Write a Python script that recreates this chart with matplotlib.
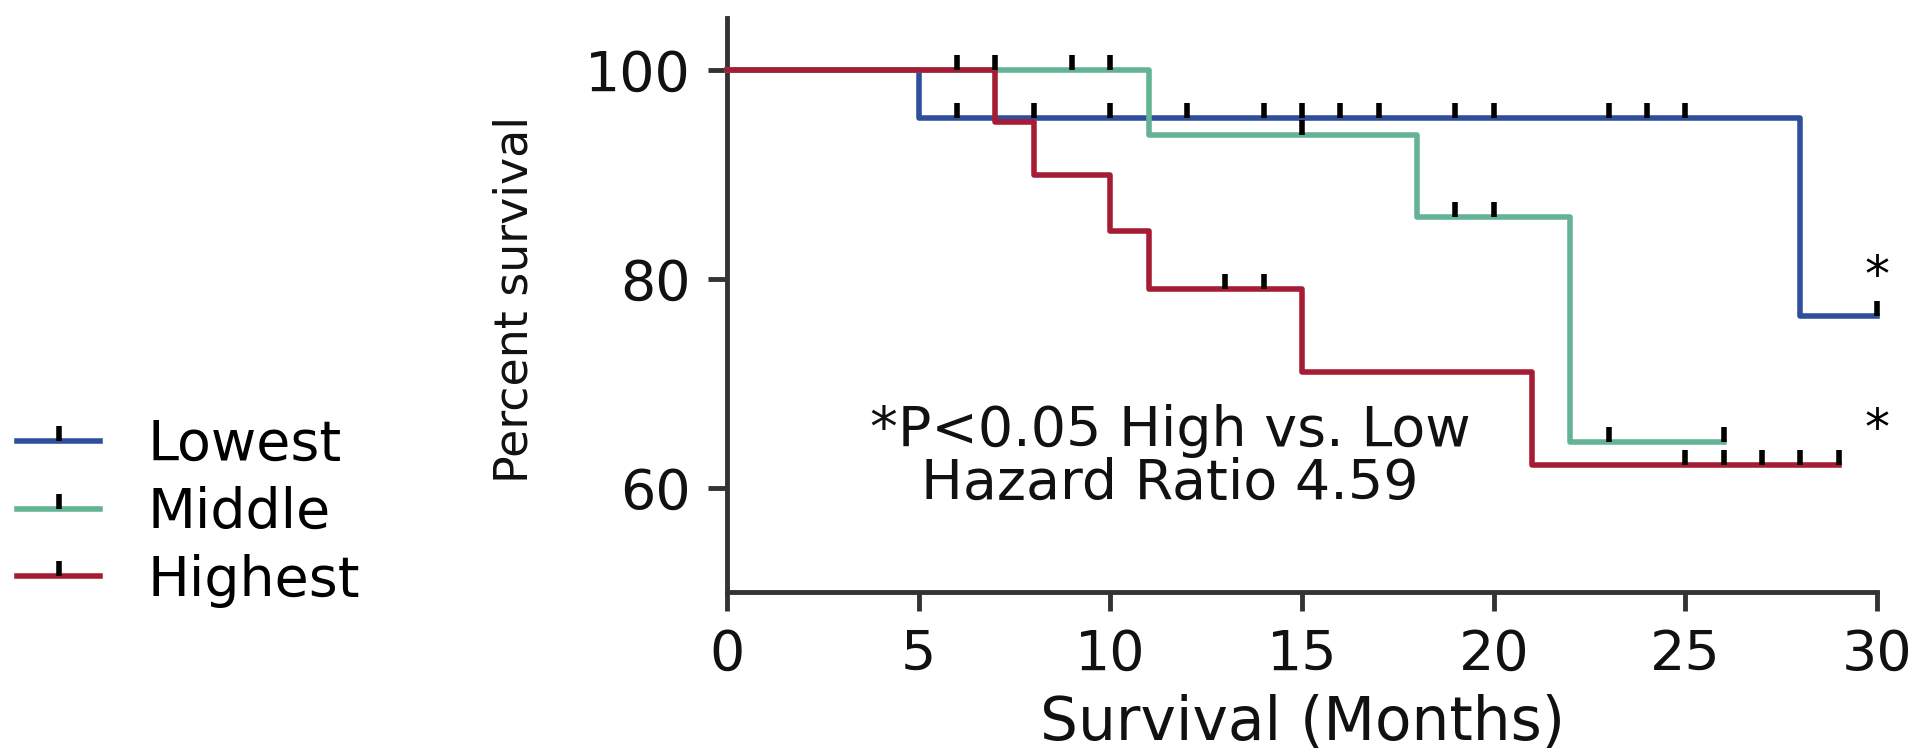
import matplotlib
matplotlib.use("Agg")
import matplotlib.pyplot as plt
from matplotlib.lines import Line2D
from matplotlib.markers import TICKUP

# Kaplan-Meier steps (months, percent survival)
low_t = [0, 5, 28, 30]
low_s = [100, 95.45, 76.4, 76.4]
low_cens_t = [6, 8, 10, 12, 14, 15, 16, 17, 19, 20, 23, 24, 25, 30]

mid_t = [0, 11, 18, 22, 26]
mid_s = [100, 93.75, 85.9, 64.4, 64.4]
mid_cens_t = [7, 9, 10, 15, 19, 20, 23, 26]

high_t = [0, 7, 8, 10, 11, 15, 21, 29]
high_s = [100, 95.0, 90.0, 84.6, 79.0, 71.1, 62.2, 62.2]
high_cens_t = [6, 13, 14, 25, 26, 27, 28, 29]

labels = ["Lowest", "Middle", "Highest"]
colors = ["#2f4f9c", "#64b394", "#a51c34"]

x_ticks = [0, 5, 10, 15, 20, 25, 30]
y_ticks = [60, 80, 100]
star_y = [80.2, 65.5]


def surv_at(times, surv, t):
    # value of the step curve at time t
    val = surv[0]
    for ti, si in zip(times, surv):
        if ti <= t:
            val = si
    return val


plt.rcParams["font.family"] = "DejaVu Sans"

fig = plt.figure(figsize=(19.21, 7.5), dpi=100)
ax = fig.add_axes([0.3785, 0.2107, 0.5986, 0.7653])

groups = [(low_t, low_s, low_cens_t), (mid_t, mid_s, mid_cens_t),
          (high_t, high_s, high_cens_t)]
for (t, s, ct), c in zip(groups, colors):
    ax.step(t, s, where="post", color=c, lw=4, clip_on=False, zorder=3)
    cy = [surv_at(t, s, x) for x in ct]
    ax.plot(ct, cy, ls="none", marker=TICKUP, ms=11, mew=4,
            mec="black", clip_on=False, zorder=4)

for y in star_y:
    ax.text(30, y, "*", ha="center", va="center", fontsize=36, clip_on=False)

ax.text(11.56, 62.9, "*P<0.05 High vs. Low\nHazard Ratio 4.59",
        ha="center", va="center", multialignment="center",
        fontsize=40, linespacing=0.95, color="#111111")

ax.set_xlim(0, 30)
ax.set_ylim(50, 105)
ax.set_xticks(x_ticks)
ax.set_yticks(y_ticks)
ax.spines["top"].set_visible(False)
ax.spines["right"].set_visible(False)
for sp in ["left", "bottom"]:
    ax.spines[sp].set_linewidth(3.5)
    ax.spines[sp].set_color("#333333")
ax.tick_params(axis="both", length=14, width=3.5, color="#333333",
               labelsize=40, labelcolor="#111111")
ax.tick_params(axis="y", pad=12)
ax.tick_params(axis="x", pad=12)

ax.set_xlabel("Survival (Months)", fontsize=43, color="#111111")
ax.xaxis.set_label_coords(0.5, -0.178)
ax.set_ylabel("Percent survival", fontsize=33, color="#111111")
ax.yaxis.set_label_coords(-0.165, 0.509)

handles = [Line2D([0], [0], color=c, lw=4, marker=TICKUP, ms=11, mew=4,
                  mec="black") for c in colors]
fig.legend(handles, labels, loc="center left",
           bbox_to_anchor=(17 / 1921, 0.316), frameon=False, borderpad=0,
           borderaxespad=0, fontsize=40, handlelength=1.5,
           handletextpad=0.85, labelspacing=0.25, numpoints=1)

fig.savefig("out.png", dpi=100)
